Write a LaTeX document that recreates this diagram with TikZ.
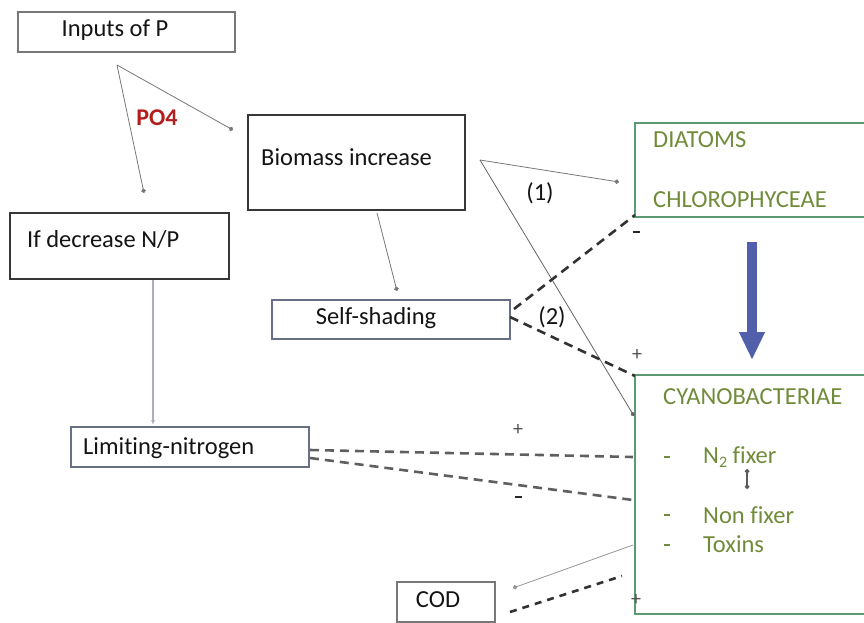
\documentclass[tikz,border=0pt]{standalone}
\usepackage{fontspec}
\setmainfont{Carlito}[Ligatures=NoCommon]
\usetikzlibrary{arrows.meta}
\definecolor{grntxt}{RGB}{112,140,58}
\definecolor{grnbox}{RGB}{90,155,115}
\definecolor{bluearr}{RGB}{82,96,172}
\definecolor{bluebox}{RGB}{104,112,136}
\definecolor{po}{RGB}{178,30,30}
\definecolor{txt}{RGB}{20,20,20}
\tikzset{
  basebox/.style={rectangle, inner sep=0pt, line width=1.8pt},
  graybox/.style={basebox, draw={rgb,255:red,120;green,120;blue,120}},
  darkbox/.style={basebox, draw={rgb,255:red,55;green,55;blue,55}},
  bluegbox/.style={basebox, draw=bluebox},
  greenbox/.style={basebox, draw=grnbox, line width=2.4pt},
  lbl/.style={font=\fontsize{24.5}{29}\selectfont, text=txt, inner sep=0pt},
  glbl/.style={font=\fontsize{24.5}{29}\selectfont, text=grntxt, inner sep=0pt},
  sign/.style={font=\fontsize{20}{24}\selectfont, text={rgb,255:red,80;green,80;blue,80}, inner sep=0pt},
  minusbar/.style={draw={rgb,255:red,40;green,40;blue,40}, line width=2.8pt},
  gminus/.style={draw=grntxt, line width=1.3pt},
  thinarr/.style={draw={rgb,255:red,120;green,120;blue,120}, line width=0.8pt, -{Circle[length=4.5pt]}},
  dasharr/.style={draw={rgb,255:red,50;green,50;blue,50}, line width=2.6pt, dash pattern=on 9pt off 6pt},
  gdasharr/.style={draw={rgb,255:red,95;green,95;blue,95}, line width=2.6pt, dash pattern=on 9pt off 6pt},
  sdasharr/.style={draw={rgb,255:red,50;green,50;blue,50}, line width=2.6pt, dash pattern=on 7pt off 6pt},
}
\begin{document}
\begin{tikzpicture}[x=1pt,y=-1pt]
\useasboundingbox (0,0) rectangle (864,623);
\clip (0,0) rectangle (864,623);
% boxes
\node[graybox, minimum width=217pt, minimum height=40pt] (inp) at (126.5,32) {};
\node[lbl] (inpT) at (115,30) {Inputs of P};
\node[darkbox, minimum width=217pt, minimum height=95pt] (bio) at (356.5,162.5) {};
\node[lbl, anchor=west] (bioT) at (261,157) {Biomass increase};
\node[darkbox, minimum width=219pt, minimum height=66pt] (ifd) at (119.5,246) {};
\node[lbl, anchor=west] (ifdT) at (27,240) {If decrease N/P};
\node[bluegbox, minimum width=238pt, minimum height=39pt] (ss) at (391,319.5) {};
\node[lbl] (ssT) at (376,318) {Self-shading};
\node[bluegbox, minimum width=238pt, minimum height=40pt] (lim) at (190,447) {};
\node[lbl, anchor=west] (limT) at (83,448) {Limiting-nitrogen};
\node[graybox, minimum width=98pt, minimum height=40pt] (cod) at (446,602) {};
\node[lbl] (codT) at (438,600) {COD};
\node[greenbox, minimum width=250pt, minimum height=94pt] (dia) at (760,170) {};
\node[glbl, anchor=west] (diaT) at (653,140) {DIATOMS};
\node[glbl, anchor=west] (chlT) at (653,200) {CHLOROPHYCEAE};
\node[greenbox, minimum width=250pt, minimum height=239pt] (cya) at (760,494.5) {};
\node[glbl, anchor=west] (cyaT) at (663,397) {CYANOBACTERIAE};
\node[glbl, anchor=west] (n2T) at (703,457) {N\raisebox{-0.35ex}{\fontsize{16}{19}\selectfont 2} fixer};
\node[glbl, anchor=west] (nfT) at (703,515) {Non fixer};
\node[glbl, anchor=west] (toxT) at (703,544) {Toxins};
\coordinate (d1) at (667,457);
\coordinate (d2) at (667,515);
\coordinate (d3) at (667,545);
\foreach \d in {d1,d2,d3} \draw[gminus] ([xshift=-3pt]\d) -- ([xshift=3pt]\d);
% labels
\node[font=\bfseries\fontsize{24}{28}\selectfont, text=po, inner sep=0pt] (po4) at (157,118) {PO4};
\node[lbl] (l1) at (540,193) {(1)};
\node[lbl] (l2) at (552,317) {(2)};
% signs
\coordinate (s1) at (636,232);
\draw[minusbar] ([xshift=-3.5pt]s1) -- ([xshift=3.5pt]s1);
\node[sign] (s2) at (637,355) {+};
\node[sign] (s3) at (518,430) {+};
\coordinate (s4) at (518,497);
\draw[minusbar] ([xshift=-3.5pt]s4) -- ([xshift=3.5pt]s4);
\node[sign] (s5) at (636,600) {+};
% coordinates for connector ends
\coordinate (pa) at (117,65);
\coordinate (pbio) at (233,130);
\coordinate (pifd) at (144,193);
\coordinate (bb) at (480,160);
\coordinate (pdia) at (619,182);
\coordinate (pcya) at (634,416);
\coordinate (bbot) at (377,213);
\coordinate (pss) at (397,291);
\coordinate (ifdb) at (153,280);
\coordinate (limt) at (153,425);
\coordinate (ssa) at (514,309);
\coordinate (ssb) at (510,317);
\coordinate (diab) at (635,215);
\coordinate (cyat) at (635,376);
\coordinate (lima) at (310,450);
\coordinate (limb) at (310,458);
\coordinate (cyaa) at (633,457);
\coordinate (cyab) at (633,500);
\coordinate (cyac) at (633,545);
\coordinate (coda) at (513,588);
\coordinate (codb) at (510,612);
\coordinate (codc) at (622,576);
\coordinate (fx1) at (747,469);
\coordinate (fx2) at (747,489);
% connectors
\draw[thinarr] (pa) -- (pbio);
\draw[thinarr] (pa) -- (pifd);
\draw[thinarr] (bb) -- (pdia);
\draw[thinarr, draw={rgb,255:red,100;green,100;blue,100}] (bb) -- (pcya);
\draw[thinarr] (bbot) -- (pss);
\draw[draw={rgb,255:red,175;green,175;blue,185}, line width=1.1pt, -{Latex[length=5pt,width=4pt]}] (ifdb) -- (limt);
\draw[dasharr] (ssa) -- (diab);
\draw[dasharr] (ssb) -- (cyat);
\draw[gdasharr] (lima) -- (cyaa);
\draw[gdasharr] (limb) -- (cyab);
\draw[thinarr, draw={rgb,255:red,150;green,150;blue,150}] (cyac) -- (coda);
\draw[sdasharr] (codb) -- (codc);
\draw[line width=1.2pt, draw={rgb,255:red,90;green,90;blue,90}, {Circle[length=4.5pt]}-{Circle[length=4.5pt]}] (fx1) -- (fx2);
% big blue arrow
\coordinate (ba1) at (752,242);
\coordinate (ba2) at (752,360);
\draw[bluearr, line width=10pt, -{Triangle[length=28pt,width=24pt]}] (ba1) -- (ba2);
\end{tikzpicture}
\end{document}
